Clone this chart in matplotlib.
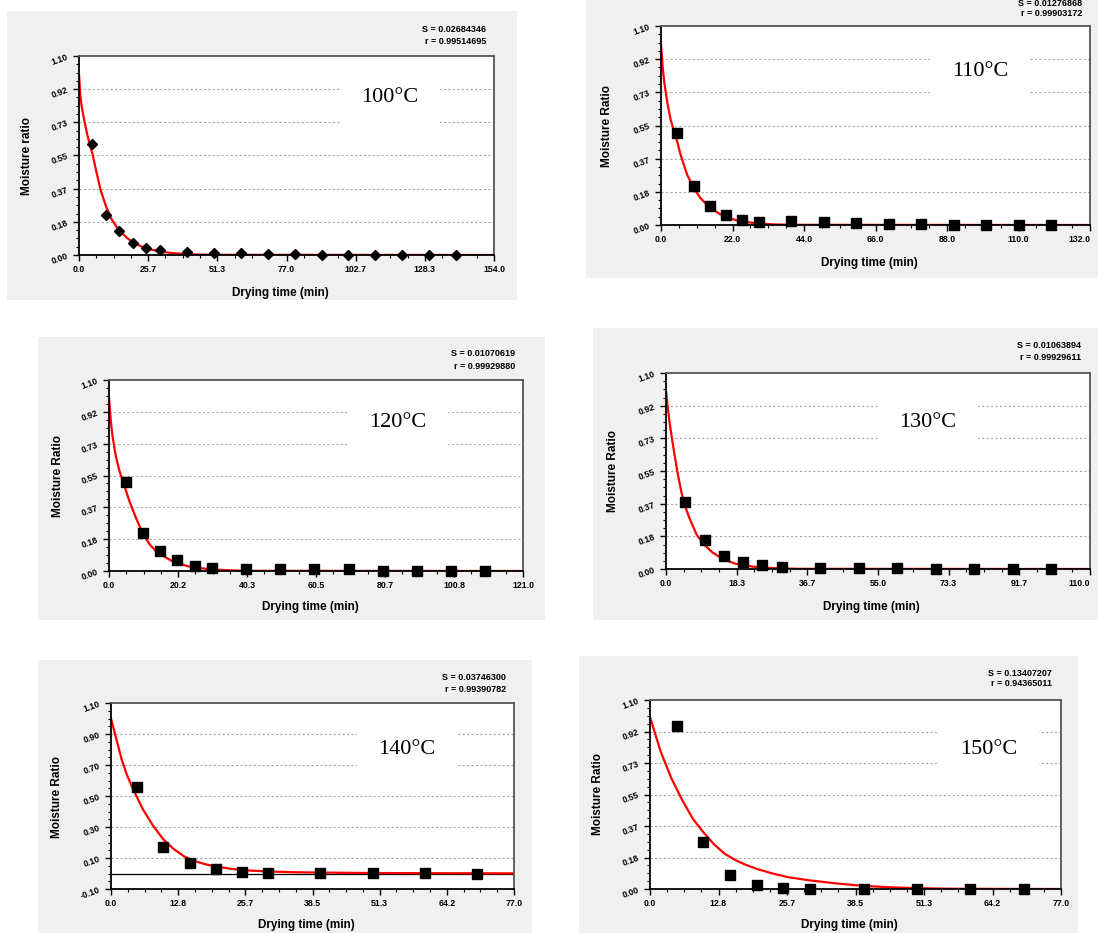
import numpy as np
import matplotlib
matplotlib.use('Agg')
import matplotlib.pyplot as plt
from matplotlib.patches import Rectangle

W, H = 1098, 933

# ---- data ----
temps = ['100°C', '110°C', '120°C', '130°C', '140°C', '150°C']
s_values = ['S = 0.02684346', 'S = 0.01276868', 'S = 0.01070619',
            'S = 0.01063894', 'S = 0.03746300', 'S = 0.13407207']
r_values = ['r = 0.99514695', 'r = 0.99903172', 'r = 0.99929880',
            'r = 0.99929611', 'r = 0.99390782', 'r = 0.94365011']
x_max = [154.0, 132.0, 121.0, 110.0, 77.0, 77.0]
y_min = [0.0, 0.0, 0.0, 0.0, -0.10, 0.0]
y_titles = ['Moisture ratio', 'Moisture Ratio', 'Moisture Ratio',
            'Moisture Ratio', 'Moisture Ratio', 'Moisture Ratio']

# measured points
t_100 = [5, 10, 15, 20, 25, 30, 40, 50, 60, 70, 80, 90, 100, 110, 120, 130, 140]
mr_100 = [0.615, 0.220, 0.135, 0.065, 0.040, 0.026, 0.018, 0.010, 0.010, 0.006,
          0.006, 0.002, 0.002, 0.002, 0.002, 0.002, 0.002]
t_110 = [5, 10, 15, 20, 25, 30, 40, 50, 60, 70, 80, 90, 100, 110, 120]
mr_110 = [0.509, 0.213, 0.104, 0.054, 0.030, 0.017, 0.020, 0.015, 0.011, 0.006,
          0.007, 0.001, 0.001, 0.001, 0.001]
t_120 = [5, 10, 15, 20, 25, 30, 40, 50, 60, 70, 80, 90, 100, 110]
mr_120 = [0.513, 0.217, 0.117, 0.065, 0.027, 0.017, 0.013, 0.010, 0.010, 0.010,
          0.002, 0.002, 0.002, 0.002]
t_130 = [5, 10, 15, 20, 25, 30, 40, 50, 60, 70, 80, 90, 100]
mr_130 = [0.375, 0.165, 0.072, 0.037, 0.021, 0.011, 0.006, 0.006, 0.006, 0.001,
          0.001, 0.001, 0.001]
t_140 = [5, 10, 15, 20, 25, 30, 40, 50, 60, 70]
mr_140 = [0.558, 0.170, 0.067, 0.029, 0.007, 0.003, 0.003, 0.003, 0.003, -0.003]
t_150 = [5, 10, 15, 20, 25, 30, 40, 50, 60, 70]
mr_150 = [0.947, 0.272, 0.084, 0.021, 0.008, 0.002, 0.002, 0.002, 0.002, 0.002]

# fitted curves (red)
fit_t_100 = [0, 0.5, 1, 2, 3, 4, 5, 6, 8, 10, 12, 14, 16, 18, 20, 23, 26, 30, 35, 40, 45, 50, 154]
fit_mr_100 = [1.0, 0.88, 0.82, 0.74, 0.67, 0.61, 0.56, 0.49, 0.36, 0.27, 0.20, 0.154, 0.12,
              0.092, 0.071, 0.048, 0.033, 0.019, 0.010, 0.005, 0.002, 0.001, 0.0]
fit_t_110 = [0, 0.5, 1, 2, 3, 4, 5, 6, 8, 10, 12, 14, 16, 18, 20, 23, 26, 30, 35, 40, 132]
fit_mr_110 = [1.0, 0.875, 0.79, 0.67, 0.58, 0.52, 0.46, 0.39, 0.28, 0.205, 0.152, 0.114,
              0.085, 0.062, 0.045, 0.027, 0.017, 0.008, 0.003, 0.001, 0.0]
fit_t_120 = [0, 0.5, 1, 2, 3, 4, 5, 6, 8, 10, 12, 14, 16, 18, 20, 23, 26, 30, 35, 40, 121]
fit_mr_120 = [1.0, 0.87, 0.78, 0.66, 0.58, 0.52, 0.46, 0.40, 0.30, 0.21, 0.15, 0.11,
              0.085, 0.062, 0.045, 0.028, 0.018, 0.009, 0.004, 0.001, 0.0]
fit_t_130 = [0, 0.5, 1, 2, 3, 4, 5, 6, 8, 10, 12, 14, 16, 18, 20, 23, 26, 30, 35, 110]
fit_mr_130 = [1.0, 0.90, 0.81, 0.67, 0.54, 0.43, 0.35, 0.29, 0.19, 0.135, 0.094, 0.066,
              0.045, 0.030, 0.021, 0.012, 0.007, 0.003, 0.001, 0.0]
fit_t_140 = [0, 1, 2, 3, 4, 5, 6, 8, 10, 12, 14, 16, 18, 20, 23, 26, 30, 35, 40, 50, 60, 77]
fit_mr_140 = [1.0, 0.87, 0.74, 0.64, 0.56, 0.49, 0.42, 0.31, 0.22, 0.157, 0.11, 0.08,
              0.06, 0.045, 0.03, 0.02, 0.013, 0.008, 0.006, 0.003, 0.002, 0.001]
fit_t_150 = [0, 2, 4, 6, 8, 10, 12, 14, 16, 18, 20, 23, 26, 30, 35, 40, 45, 50, 55, 60, 77]
fit_mr_150 = [1.0, 0.80, 0.645, 0.52, 0.41, 0.33, 0.26, 0.205, 0.168, 0.14, 0.117, 0.09,
              0.068, 0.05, 0.032, 0.018, 0.01, 0.005, 0.002, 0.001, 0.0]

points = [(t_100, mr_100), (t_110, mr_110), (t_120, mr_120),
          (t_130, mr_130), (t_140, mr_140), (t_150, mr_150)]
fits = [(fit_t_100, fit_mr_100), (fit_t_110, fit_mr_110), (fit_t_120, fit_mr_120),
        (fit_t_130, fit_mr_130), (fit_t_140, fit_mr_140), (fit_t_150, fit_mr_150)]
markers = ['D', 's', 's', 's', 's', 's']

# ---- layout, in picture pixels ----
plot_box = [(79, 56, 494, 255), (661, 26, 1090, 225), (109, 380, 523, 571),
            (666, 373, 1090, 569), (111, 703, 514, 889), (650, 700, 1061, 889)]
panel_box = [(7, 11, 517, 300), (586, 0, 1098, 278), (38, 337, 545, 620),
             (593, 328, 1098, 620), (38, 660, 532, 933), (579, 656, 1078, 933)]
stat_pos = [(486, 29, 41), (1082, 4, 13), (515, 354, 366),
            (1081, 346, 358), (506, 678, 689), (1052, 673, 684)]
temp_pos = [(390, 98), (980, 71), (398, 422), (928, 422), (407, 749), (989, 749)]
xlabel_pos = [(280, 293), (869, 263), (310, 607), (871, 607), (306, 925), (849, 925)]
ylabel_pos = [(27, 156), (607, 126), (58, 476), (613, 471), (57, 797), (598, 794)]

SANS = 'Liberation Sans'


def fx(x):
    return x / W


def fy(y):
    return 1 - y / H


fig = plt.figure(figsize=(W / 100, H / 100), dpi=100)
fig.patch.set_facecolor('white')

for i in range(6):
    gl, gt, gr, gb = panel_box[i]
    fig.add_artist(Rectangle((fx(gl), fy(gb)), (gr - gl) / W, (gb - gt) / H,
                             transform=fig.transFigure, facecolor='#f0f0f0',
                             edgecolor='none', zorder=-5))

    l, t, r, b = plot_box[i]
    ax = fig.add_axes([fx(l), fy(b), (r - l) / W, (b - t) / H])
    ax.set_facecolor('white')

    xt = np.linspace(0, x_max[i], 7)
    yt = np.linspace(y_min[i], 1.1, 7)
    ax.set_xticks(xt)
    ax.set_xticks(np.linspace(0, x_max[i], 25), minor=True)
    ax.set_yticks(yt)
    ax.set_yticks(np.linspace(y_min[i], 1.1, 25), minor=True)
    xlabels = ax.set_xticklabels(['%.1f' % v for v in xt], fontsize=6.3,
                                 fontweight='bold', family=SANS)
    ax.set_yticklabels(['%.2f' % v for v in yt], fontsize=6.3, fontweight='bold',
                       family=SANS, rotation=20)
    ax.tick_params(which='major', direction='out', length=4, width=1, pad=3)
    ax.tick_params(which='minor', direction='out', length=2.5, width=0.8)
    # last label would run off the picture's right edge
    if r > W - 15:
        xlabels[-1].set_horizontalalignment('right')

    for yv in yt[1:-1]:
        ax.axhline(yv, color='#a8a8a8', lw=0.8, ls=(0, (2, 2)), zorder=0.5)
    if y_min[i] < 0:
        ax.axhline(0, color='black', lw=0.9, zorder=1.2)

    ft, fm = fits[i]
    ax.plot(ft, fm, color='#ff0000', lw=1.6, zorder=2)
    pt, pm = points[i]
    ax.plot(pt, pm, ls='none', marker=markers[i], color='black',
            ms=5 if markers[i] == 'D' else 6.5, zorder=3, clip_on=False)

    ax.set_xlim(0, x_max[i])
    ax.set_ylim(y_min[i], 1.1)

    for side in ['left', 'bottom']:
        ax.spines[side].set_color('black')
        ax.spines[side].set_linewidth(1.3)
    for side in ['top', 'right']:
        ax.spines[side].set_color('#555555')
        ax.spines[side].set_linewidth(1.3)

    # white box behind the temperature label
    cx, cy = temp_pos[i]
    fig.add_artist(Rectangle((fx(cx - 50), fy(cy + 32)), 100 / W, 60 / H,
                             transform=fig.transFigure, facecolor='white',
                             edgecolor='none', zorder=1))
    fig.text(fx(cx), fy(cy), temps[i], ha='center', va='center', fontsize=16,
             family='Liberation Serif', zorder=5)

    sx, sy, ry = stat_pos[i]
    fig.text(fx(sx), fy(sy), s_values[i], ha='right', va='center', fontsize=6.5,
             fontweight='bold', family=SANS)
    fig.text(fx(sx), fy(ry), r_values[i], ha='right', va='center', fontsize=6.5,
             fontweight='bold', family=SANS)

    lx, ly = xlabel_pos[i]
    fig.text(fx(lx), fy(ly), 'Drying time (min)', ha='center', va='center',
             fontsize=8.5, fontweight='bold', family=SANS)
    yx, yy = ylabel_pos[i]
    fig.text(fx(yx), fy(yy), y_titles[i], ha='center', va='center', rotation=90,
             fontsize=8.5, fontweight='bold', family=SANS)

fig.savefig('out.png', dpi=100)
